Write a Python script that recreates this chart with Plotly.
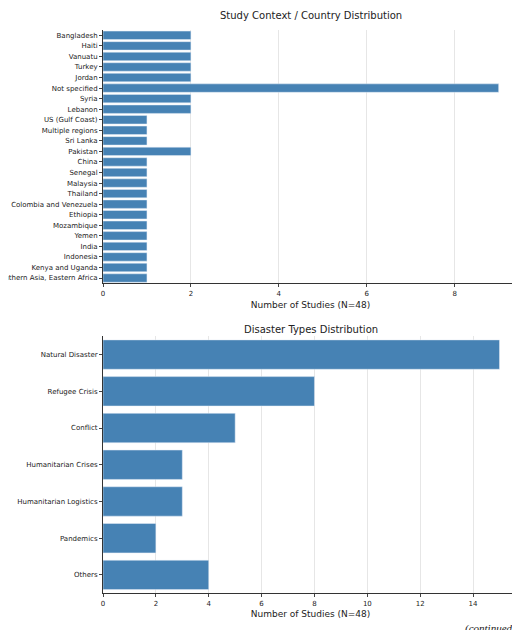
import plotly.graph_objects as go

countries = ["Bangladesh","Haiti","Vanuatu","Turkey","Jordan","Not specified","Syria","Lebanon",
             "US (Gulf Coast)","Multiple regions","Sri Lanka","Pakistan","China","Senegal","Malaysia",
             "Thailand","Colombia and Venezuela","Ethiopia","Mozambique","Yemen","India","Indonesia",
             "Kenya and Uganda","Southern Asia, Eastern Africa"]
country_counts = [2,2,2,2,2,9,2,2,1,1,1,2,1,1,1,1,1,1,1,1,1,1,1,1]
disasters = ["Natural Disaster","Refugee Crisis","Conflict","Humanitarian Crises",
             "Humanitarian Logistics","Pandemics","Others"]
disaster_counts = [15,8,5,3,3,2,4]

color = "#4682b4"
fig = go.Figure()
fig.add_trace(go.Bar(y=countries, x=country_counts, orientation="h", marker_color=color,
                     width=0.8, xaxis="x", yaxis="y"))
fig.add_trace(go.Bar(y=disasters, x=disaster_counts, orientation="h", marker_color=color,
                     width=0.8, xaxis="x2", yaxis="y2"))

W = 510
ax = dict(showgrid=True, gridcolor="#e6e6e6", showline=True, linecolor="#333", linewidth=1,
          ticks="outside", ticklen=3, tickfont=dict(size=7), zeroline=False, mirror=False,
          automargin=False)
fig.update_layout(
    width=W, height=630, margin=dict(l=0, r=0, t=0, b=0), autosize=False,
    plot_bgcolor="white", paper_bgcolor="white", showlegend=False,
    font=dict(family="DejaVu Sans", color="#222"),
    xaxis=dict(ax, domain=[95/W, 1], anchor="y", range=[0, 9.44], dtick=2,
               title=dict(text="Number of Studies (N=48)", font=dict(size=9), standoff=4)),
    yaxis=dict(ax, domain=[0.563, 0.965], anchor="x", autorange="reversed",
               showgrid=False, tickfont=dict(size=7)),
    xaxis2=dict(ax, domain=[95/W, 1], anchor="y2", range=[0, 15.7], dtick=2,
                title=dict(text="Number of Studies (N=48)", font=dict(size=9), standoff=4)),
    yaxis2=dict(ax, domain=[0.071, 0.479], anchor="x2", autorange="reversed",
                showgrid=False, tickfont=dict(size=7)),
    annotations=[
        dict(text="Study Context / Country Distribution", x=(95/W + 1) / 2, y=1, xref="paper",
             yref="paper", showarrow=False, font=dict(size=10), yanchor="top"),
        dict(text="Disaster Types Distribution", x=(95/W + 1) / 2, y=1 - 314/630, xref="paper",
             yref="paper", showarrow=False, font=dict(size=10), yanchor="top"),
        dict(text="<i>(continued)</i>", x=1, y=1 - 612/630, xref="paper", yref="paper",
             showarrow=False, xanchor="right", yanchor="top",
             font=dict(size=11, family="Liberation Serif")),
    ],
)
fig.write_html("out.html")
